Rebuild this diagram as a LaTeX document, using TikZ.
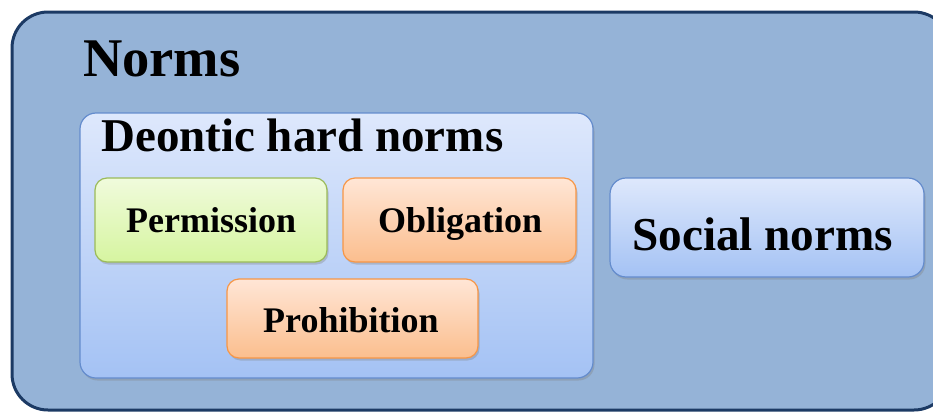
\documentclass[tikz,border=0pt]{standalone}
\usepackage{fontspec}
\setmainfont{Liberation Serif}
\usetikzlibrary{shadows}
\definecolor{outerfill}{RGB}{149,179,215}
\definecolor{outerdraw}{RGB}{28,58,100}
\definecolor{bluetop}{RGB}{222,232,252}
\definecolor{bluebot}{RGB}{164,194,244}
\definecolor{bluedraw}{RGB}{100,140,205}
\definecolor{greentop}{RGB}{240,251,220}
\definecolor{greenbot}{RGB}{214,245,160}
\definecolor{greendraw}{RGB}{155,187,89}
\definecolor{orangetop}{RGB}{255,230,214}
\definecolor{orangebot}{RGB}{251,190,142}
\definecolor{orangedraw}{RGB}{247,150,70}
\tikzset{
  outerbox/.style={draw=outerdraw, line width=3pt, fill=outerfill, rounded corners=36pt},
  bluebox/.style={draw=bluedraw, line width=1.2pt, top color=bluetop, bottom color=bluebot, rounded corners=16pt,
     drop shadow={shadow xshift=1.5pt, shadow yshift=-2.5pt, opacity=0.35}},
  greenbox/.style={draw=greendraw, line width=1.2pt, top color=greentop, bottom color=greenbot, rounded corners=12pt,
     drop shadow={shadow xshift=1.5pt, shadow yshift=-2.5pt, opacity=0.35}},
  orangebox/.style={draw=orangedraw, line width=1.2pt, top color=orangetop, bottom color=orangebot, rounded corners=12pt,
     drop shadow={shadow xshift=1.5pt, shadow yshift=-2.5pt, opacity=0.35}},
  lbl/.style={anchor=base west, inner sep=0pt, font=\bfseries},
}
\begin{document}
\begin{tikzpicture}[x=1pt,y=-1pt]
\useasboundingbox (0,0) rectangle (933,415);
\path[outerbox] (12,12) rectangle (950,410);
\path[bluebox] (80,113) rectangle (593,378);
\path[greenbox] (95,178) rectangle (327,262);
\path[orangebox] (343,178) rectangle (576,262);
\path[orangebox] (227,279) rectangle (478,358);
\path[bluebox] (610,178) rectangle (924,277);
\node[lbl, font=\fontsize{54.5}{60}\selectfont\bfseries] (norms) at (83,76) {Norms};
\node[lbl, font=\fontsize{47}{52}\selectfont\bfseries] (deontic) at (101,151) {Deontic hard norms};
\node[lbl, font=\fontsize{36}{42}\selectfont\bfseries] (perm) at (126,232) {Permission};
\node[lbl, font=\fontsize{36}{42}\selectfont\bfseries] (oblig) at (378,232) {Obligation};
\node[lbl, font=\fontsize{36}{42}\selectfont\bfseries] (prohib) at (263,332) {Prohibition};
\node[lbl, font=\fontsize{47.2}{52}\selectfont\bfseries] (social) at (632,250) {Social norms};
\end{tikzpicture}
\end{document}
